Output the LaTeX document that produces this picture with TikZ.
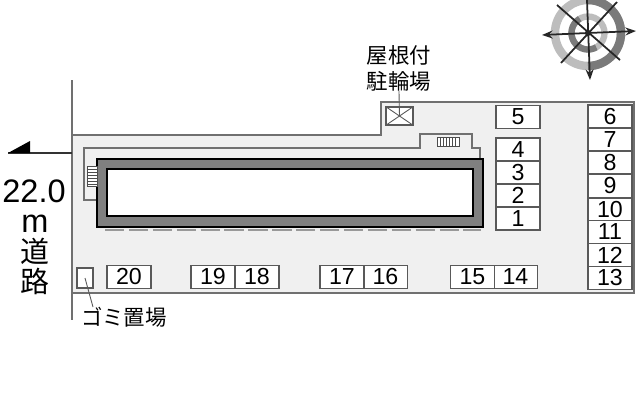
\documentclass[tikz,border=0pt]{standalone}
\usepackage{fontspec}
\setmainfont{Liberation Sans}
\newfontfamily\cjk{Noto Sans CJK JP}
\usetikzlibrary{arrows.meta}
\definecolor{sitegray}{HTML}{F0F0F0}
\definecolor{wallgray}{HTML}{808080}
\definecolor{linegray}{HTML}{707070}
\definecolor{dashgray}{HTML}{999999}
\definecolor{ringlight}{HTML}{BDBDBD}
\definecolor{ringdark}{HTML}{7A7A7A}
\tikzset{
  slotbox/.style={draw=black!65,fill=white,line width=.6pt,inner sep=0pt,minimum width=.88cm,minimum height=.46cm,font=\fontsize{13.2}{13.2}\selectfont},
  kanji/.style={inner sep=0pt,font=\cjk\fontsize{12.2}{14.7}\selectfont,align=center},
  road/.style={inner sep=0pt,font=\fontsize{18.5}{18.5}\selectfont},
  roadkanji/.style={inner sep=0pt,font=\cjk\fontsize{16.5}{16.5}\selectfont},
  spoke/.style={black!85,line width=1pt},
  spokearrow/.style={spoke,-{Stealth[length=6pt,width=4.5pt]}},
}
\begin{document}
\begin{tikzpicture}[x=.02cm,y=-.02cm]
\useasboundingbox (0,0) rectangle (640,400);
\fill[white] (0,0) rectangle (640,400);
% site
\draw[fill=sitegray,draw=linegray,line width=1pt] (72,135) -- (381,135) -- (381,102) -- (634,102) -- (634,293) -- (72,293) -- cycle;
\draw[linegray,line width=1pt] (72,80) -- (72,320);
\draw[linegray,line width=.7pt] (97,200) -- (84,200) -- (84,148) -- (420,148) -- (420,134) -- (472,134) -- (472,148) -- (480,148) -- (480,159);
% road
\draw[black!80,line width=.7pt] (8,153) -- (72,153);
\fill[black] (8,153) -- (30,153) -- (30,141) -- cycle;
\node[road] (roadwidth) at (34,191) {22.0};
\node[road] (roadunit) at (35,224) {m};
\node[roadkanji] (roadone) at (35,251) {道};
\node[roadkanji] (roadtwo) at (35,281) {路};
% building
\draw[fill=wallgray,draw=black,line width=1.1pt] (97,159) rectangle (483,227);
\draw[fill=white,draw=black,line width=1.1pt] (107,169) rectangle (473,216);
\draw[dashgray,line width=.8pt,dash pattern=on 11pt off 2.6pt] (105,230) -- (481,230);
% stairs
\draw[fill=white,draw=black!70,line width=.4pt] (87,166) rectangle (97,186);
\draw[black!70,line width=.4pt] (87,169) -- (97,169);
\draw[black!70,line width=.4pt] (87,172) -- (97,172);
\draw[black!70,line width=.4pt] (87,175) -- (97,175);
\draw[black!70,line width=.4pt] (87,178) -- (97,178);
\draw[black!70,line width=.4pt] (87,181) -- (97,181);
\draw[black!70,line width=.4pt] (87,184) -- (97,184);
\draw[fill=white,draw=black!70,line width=.4pt] (437,137) rectangle (459,146);
\draw[black!70,line width=.4pt] (440,137) -- (440,146);
\draw[black!70,line width=.4pt] (443,137) -- (443,146);
\draw[black!70,line width=.4pt] (446,137) -- (446,146);
\draw[black!70,line width=.4pt] (449,137) -- (449,146);
\draw[black!70,line width=.4pt] (452,137) -- (452,146);
\draw[black!70,line width=.4pt] (455,137) -- (455,146);
% bike shelter
\node[kanji] (bikelabel) at (399,68) {屋根付\\駐輪場};
\node[draw=black!65,fill=white,line width=.6pt,inner sep=0pt,minimum width=.54cm,minimum height=.36cm] (bikebox) at (399.5,116) {};
\draw[black!65,line width=.5pt] (bikebox.north west) -- (bikebox.south east);
\draw[black!65,line width=.5pt] (bikebox.north east) -- (bikebox.south west);
\draw[black!65,line width=.5pt] (bikelabel.south) -- (bikebox.center);
% parking
\node[slotbox] (slotfive) at (518,117) {5};
\node[slotbox] (slotfour) at (518,149.5) {4};
\node[slotbox] (slotthree) at (518,172.5) {3};
\node[slotbox] (slottwo) at (518,195.5) {2};
\node[slotbox] (slotone) at (518,218.5) {1};
\node[slotbox] (slotsix) at (610,116.5) {6};
\node[slotbox] (slotseven) at (610,139.5) {7};
\node[slotbox] (sloteight) at (610,162.5) {8};
\node[slotbox] (slotnine) at (610,186) {9};
\node[slotbox] (slotten) at (610,209.5) {10};
\node[slotbox] (sloteleven) at (610,232) {11};
\node[slotbox] (slottwelve) at (610,255) {12};
\node[slotbox] (slotthirteen) at (610,278) {13};
\node[slotbox] (slotfourteen) at (515.5,277) {14};
\node[slotbox] (slotfifteen) at (472.5,277) {15};
\node[slotbox] (slotsixteen) at (385.5,277) {16};
\node[slotbox] (slotseventeen) at (342,277) {17};
\node[slotbox] (sloteighteen) at (257,277) {18};
\node[slotbox] (slotnineteen) at (213,277) {19};
\node[slotbox] (slottwenty) at (129,277) {20};
% garbage
\node[draw=black!65,fill=white,line width=.6pt,inner sep=0pt,minimum width=.32cm,minimum height=.4cm] (trash) at (85,278) {};
\node[kanji] (trashlabel) at (124,317) {ゴミ置場};
\coordinate (trashend) at (93,307);
\draw[black!65,line width=.5pt] (trash.center) -- (trashend);
% compass
\draw[ringlight,line width=4.8pt] (588,33) circle [radius=33];
\draw[ringdark,line width=4.8pt] (588,0) arc [start angle=-90,end angle=90,radius=33];
\draw[ringlight,line width=3.6pt] (588,33) circle [radius=16.5];
\draw[ringdark,line width=3.6pt] (596.25,47.3) arc [start angle=60,end angle=240,radius=16.5];
\fill[black] (588,33) circle [radius=3];
\draw[spokearrow] (588,33) -- (542,35);
\draw[spokearrow] (588,33) -- (636,31);
\draw[spokearrow] (587,0) -- (590,80);
\draw[spoke] (557,5) -- (620,60);
\draw[spoke] (617,2) -- (561,63);
\end{tikzpicture}
\end{document}
